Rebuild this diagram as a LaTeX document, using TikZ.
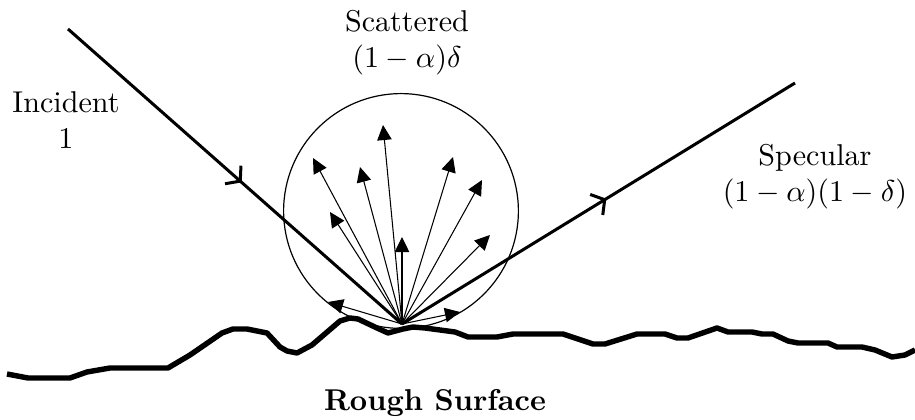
\documentclass[tikz,border=0pt]{standalone}
\usepackage{amsmath}
\usepackage{tikz}
\usetikzlibrary{arrows.meta,positioning,calc,decorations.markings}
\tikzset{
    % rays and labels
    rayLine/.style={line width=1pt, postaction={decorate},
        decoration={markings, mark=at position 0.52 with {\arrow{Straight Barb[length=3.2pt,width=8pt,line width=1pt]}}}},
    scatterArrow/.style={-{Triangle[length=5pt,width=4.8pt]}, line width=0.35pt},
    lobe/.style={circle, draw, line width=0.4pt, minimum size=78pt, inner sep=0pt},
    surfaceLine/.style={line width=1.8pt, line join=round},
    rayLabel/.style={align=center, font=\normalsize}
}

\begin{document}
\begin{tikzpicture}[x=0.3322pt, y=-0.3322pt]
\useasboundingbox (0,0) rectangle (915,420);

% points of the rays
\coordinate (hit) at (402,324);
\coordinate (inc) at (68,29);
\coordinate (spec) at (795,83);

% scattering lobe
\node[lobe] (lobeCircle) at (401,211) {};

% rough surface
\draw[surfaceLine] (7,374) -- (28,378) -- (70,378) -- (87,372) -- (110,368) -- (168,368)
    -- (190,355) -- (222,333) -- (233,329) -- (247,329) -- (267,333) -- (280,347)
    -- (287,351) -- (297,353) -- (312,345) -- (340,321) -- (350,318) -- (358,319)
    -- (377,328) -- (388,333) -- (403,329) -- (413,327) -- (425,328) -- (455,332)
    -- (468,337) -- (497,337) -- (513,334) -- (563,334) -- (593,344) -- (605,344)
    -- (637,334) -- (665,334) -- (677,338) -- (688,338) -- (717,328) -- (728,332)
    -- (752,332) -- (762,334) -- (773,334) -- (788,341) -- (798,343) -- (828,343)
    -- (837,347) -- (862,347) -- (875,350) -- (892,357) -- (905,355) -- (915,350);

% incident and specular rays
\draw[rayLine] (inc) -- (hit);
\draw[rayLine] (hit) -- (spec);

% scattered rays
\foreach \px/\py [count=\i] in {383/125, 313/158, 360/167, 330/212, 402/237,
    453/157, 482/180, 490/235, 328/302, 460/312}{
    \coordinate (s\i) at (\px,\py);
    \draw[scatterArrow] (hit) -- (s\i);
}

% labels
\node[rayLabel] (incLabel) at (66,120) {Incident\\1};
\node[rayLabel] (scatLabel) at (407,43) {Scattered\\$(1-\alpha)\delta$};
\node[rayLabel] (specLabel) at (815,177) {Specular\\$(1-\alpha)(1-\delta)$};
\node[font=\bfseries] (surfLabel) at (435,403) {Rough Surface};
\end{tikzpicture}
\end{document}
